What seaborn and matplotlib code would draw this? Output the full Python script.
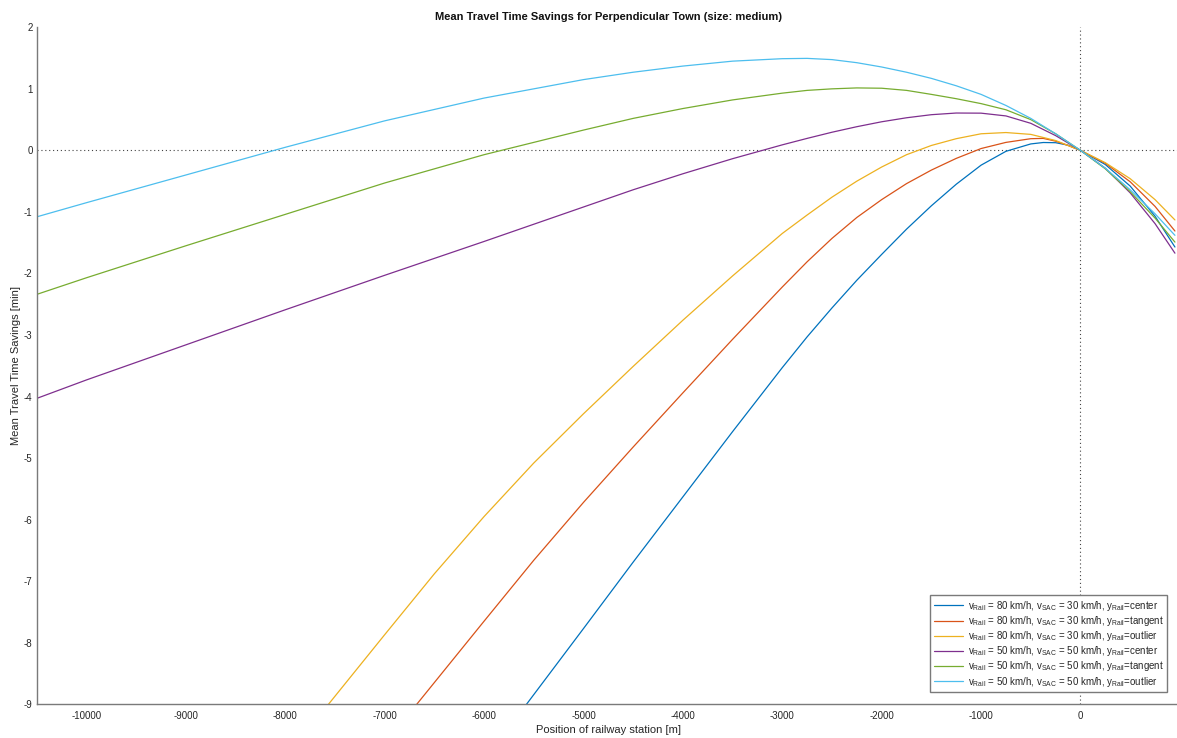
#!/usr/bin/env python3
"""Mean travel time savings, perpendicular town (size: medium) - MATLAB style line chart."""

import matplotlib
matplotlib.use("Agg")
import matplotlib.pyplot as plt
import seaborn as sns

# x positions of the railway station [m] for the series that span the whole axis
x_full = [-10500, -10000, -9000, -8000, -7000, -6000, -5000, -4500, -4000, -3500,
          -3000, -2750, -2500, -2250, -2000, -1750, -1500, -1250, -1000, -750,
          -500, -250, 0, 250, 500, 750, 950]

# v_Rail = 50, v_SAC = 50
y_50_center = [-4.03, -3.73, -3.16, -2.59, -2.03, -1.48, -0.92, -0.64, -0.38, -0.135,
               0.09, 0.195, 0.295, 0.385, 0.465, 0.53, 0.58, 0.607, 0.605, 0.56,
               0.44, 0.24, 0.0, -0.29, -0.69, -1.19, -1.67]
y_50_tangent = [-2.34, -2.07, -1.55, -1.04, -0.53, -0.07, 0.33, 0.52, 0.68, 0.82,
                0.93, 0.975, 1.0, 1.015, 1.01, 0.975, 0.91, 0.84, 0.76, 0.66,
                0.50, 0.27, 0.0, -0.30, -0.67, -1.10, -1.49]
y_50_outlier = [-1.08, -0.85, -0.40, 0.05, 0.48, 0.85, 1.15, 1.27, 1.37, 1.45,
                1.49, 1.495, 1.475, 1.425, 1.355, 1.27, 1.17, 1.05, 0.91, 0.73,
                0.52, 0.27, 0.0, -0.29, -0.64, -1.03, -1.38]

# v_Rail = 80, v_SAC = 30 (these run off the bottom of the axis)
x_80_center = [-5573, -5000, -4500, -4000, -3500, -3000, -2750, -2500, -2250, -2000,
               -1750, -1500, -1250, -1000, -750, -500, -375, -250, -125, 0,
               250, 500, 750, 950]
y_80_center = [-9.0, -7.77, -6.69, -5.63, -4.57, -3.53, -3.03, -2.56, -2.11, -1.69,
               -1.28, -0.90, -0.55, -0.24, -0.015, 0.105, 0.128, 0.125, 0.085, 0.0,
               -0.23, -0.58, -1.07, -1.57]

x_80_tangent = [-6677, -6000, -5500, -5000, -4500, -4000, -3500, -3000, -2750, -2500,
                -2250, -2000, -1750, -1500, -1250, -1000, -750, -500, -375, -250,
                -125, 0, 250, 500, 750, 950]
y_80_tangent = [-9.0, -7.65, -6.66, -5.72, -4.82, -3.94, -3.07, -2.22, -1.81, -1.43,
                -1.09, -0.80, -0.54, -0.32, -0.13, 0.03, 0.13, 0.19, 0.195, 0.15,
                0.08, 0.0, -0.21, -0.51, -0.91, -1.31]

x_80_outlier = [-7565, -7000, -6500, -6000, -5500, -5000, -4500, -4000, -3500, -3000,
                -2750, -2500, -2250, -2000, -1750, -1500, -1250, -1000, -750, -500,
                -250, 0, 250, 500, 750, 950]
y_80_outlier = [-9.0, -7.87, -6.88, -5.95, -5.08, -4.28, -3.51, -2.76, -2.04, -1.35,
                -1.05, -0.76, -0.50, -0.27, -0.07, 0.08, 0.19, 0.27, 0.29, 0.26,
                0.16, 0.0, -0.20, -0.46, -0.80, -1.13]

labels = [
    r"v$_{\rm Rail}$ = 80 km/h, v$_{\rm SAC}$ = 30 km/h, y$_{\rm Rail}$=center",
    r"v$_{\rm Rail}$ = 80 km/h, v$_{\rm SAC}$ = 30 km/h, y$_{\rm Rail}$=tangent",
    r"v$_{\rm Rail}$ = 80 km/h, v$_{\rm SAC}$ = 30 km/h, y$_{\rm Rail}$=outlier",
    r"v$_{\rm Rail}$ = 50 km/h, v$_{\rm SAC}$ = 50 km/h, y$_{\rm Rail}$=center",
    r"v$_{\rm Rail}$ = 50 km/h, v$_{\rm SAC}$ = 50 km/h, y$_{\rm Rail}$=tangent",
    r"v$_{\rm Rail}$ = 50 km/h, v$_{\rm SAC}$ = 50 km/h, y$_{\rm Rail}$=outlier",
]

# MATLAB default colour order
colors = ["#0072BD", "#D95319", "#EDB120", "#7E2F8E", "#77AC30", "#4DBEEE"]

series = [
    (x_80_center, y_80_center),
    (x_80_tangent, y_80_tangent),
    (x_80_outlier, y_80_outlier),
    (x_full, y_50_center),
    (x_full, y_50_tangent),
    (x_full, y_50_outlier),
]


def main():
    sns.set_style("white")
    plt.rcParams["font.family"] = ["Liberation Sans", "DejaVu Sans"]
    plt.rcParams["mathtext.fontset"] = "custom"
    plt.rcParams["mathtext.rm"] = "Liberation Sans"
    plt.rcParams["mathtext.it"] = "Liberation Sans:italic"
    plt.rcParams["axes.unicode_minus"] = False

    fig = plt.figure(figsize=(11.77, 7.38), dpi=100)
    ax = fig.add_axes([36.7 / 1177, 33.7 / 738, 1143.2 / 1177, 677 / 738])

    for (xs, ys), lab, col in zip(series, labels, colors):
        sns.lineplot(x=xs, y=ys, color=col, label=lab, lw=0.9, ax=ax, sort=False)

    # dotted reference lines through the origin
    ax.axhline(0, color="#444444", lw=0.8, ls=(0, (1, 2.5)), zorder=0.5)
    ax.axvline(0, color="#444444", lw=0.8, ls=(0, (1, 2.5)), zorder=0.5)

    ax.set_xlim(-10500, 1000)
    ax.set_ylim(-9, 2)
    ax.set_xticks(range(-10000, 1, 1000))
    ax.set_yticks(range(-9, 3))

    for side in ["top", "right"]:
        ax.spines[side].set_visible(False)
    for side in ["left", "bottom"]:
        ax.spines[side].set_color("#7a7a7a")
        ax.spines[side].set_linewidth(1.0)

    ax.tick_params(direction="in", length=8, width=1.0, color="#7a7a7a",
                   labelsize=7, labelcolor="#262626")
    ax.tick_params(axis="x", pad=5)
    ax.tick_params(axis="y", pad=3)

    ax.set_title("Mean Travel Time Savings for Perpendicular Town (size: medium)",
                 fontsize=8, fontweight="bold", color="#111111", pad=5)
    ax.set_xlabel("Position of railway station [m]", fontsize=8, color="#262626", labelpad=3)
    ax.set_ylabel("Mean Travel Time Savings [min]", fontsize=8, color="#262626", labelpad=2)

    leg = ax.legend(loc="lower right", bbox_to_anchor=(1130.3 / 1143.2, 12.3 / 677),
                    borderaxespad=0, fontsize=7, frameon=True, fancybox=False,
                    framealpha=1, edgecolor="#7a7a7a", handlelength=3.0,
                    labelspacing=0.12, borderpad=0.35, handletextpad=0.5)
    leg.get_frame().set_linewidth(1.0)

    fig.savefig("out.png", dpi=100)
    plt.close("all")


if __name__ == "__main__":
    main()
